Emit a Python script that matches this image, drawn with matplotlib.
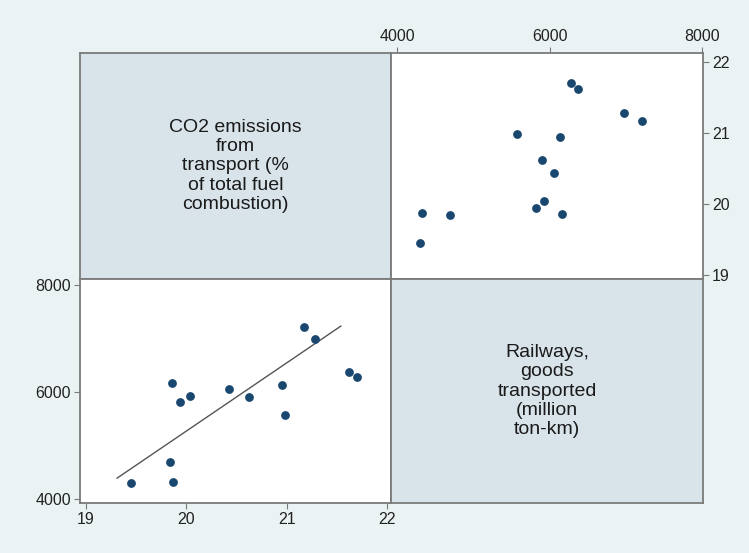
import matplotlib
matplotlib.use("Agg")
import matplotlib.pyplot as plt

# CO2 emissions from transport (% of total fuel combustion)
co2 = [19.45, 19.84, 19.87, 19.86, 19.94, 20.04, 20.43, 20.62, 20.95, 20.98, 21.17, 21.28, 21.62, 21.70]
# Railways, goods transported (million ton-km)
rail = [4300, 4690, 4320, 6160, 5820, 5920, 6060, 5905, 6130, 5570, 7210, 6980, 6370, 6280]

# fitted line ends
fit_x = [19.31, 21.54]
fit_y = [4390, 7230]

co2_ticks = [19, 20, 21, 22]
rail_ticks = [4000, 6000, 8000]
co2_label = "CO2 emissions\nfrom\ntransport (%\nof total fuel\ncombustion)"
rail_label = "Railways,\ngoods\ntransported\n(million\nton-km)"

bg = "#EAF2F3"
diag = "#D9E4EA"
edge = "#7a7a7a"
navy = "#1A476F"
W, H = 749, 553

plt.rcParams["font.family"] = ["Liberation Sans", "DejaVu Sans"]
fig = plt.figure(figsize=(W / 100, H / 100), dpi=100, facecolor=bg)


def panel(x0, y0, x1, y1):
    ax = fig.add_axes([x0 / W, 1 - y1 / H, (x1 - x0) / W, (y1 - y0) / H])
    for s in ax.spines.values():
        s.set_color(edge)
        s.set_linewidth(1.3)
    ax.tick_params(length=4, width=0.8, color=edge, labelsize=11.5,
                   labelcolor="#222222", pad=2.5)
    return ax


ax_tl = panel(80, 53, 391, 279)
ax_tr = panel(391, 53, 703, 279)
ax_bl = panel(80, 279, 391, 503)
ax_br = panel(391, 279, 703, 503)

for ax, txt in [(ax_tl, co2_label), (ax_br, rail_label)]:
    ax.set_facecolor(diag)
    ax.set_xticks([])
    ax.set_yticks([])
    ax.text(0.5, 0.5, txt, transform=ax.transAxes, ha="center", va="center",
            fontsize=14, linespacing=1.17, color="#1a1a1a")

# top right: y = co2, x = rail
ax_tr.scatter(rail, co2, s=28, color=navy, zorder=3)
ax_tr.set_xlim(3920, 8010)
ax_tr.set_ylim(18.94, 22.13)
ax_tr.set_xticks(rail_ticks)
ax_tr.set_yticks(co2_ticks)
ax_tr.xaxis.tick_top()
ax_tr.yaxis.tick_right()

# bottom left: y = rail, x = co2, with linear fit
ax_bl.scatter(co2, rail, s=28, color=navy, zorder=3)
ax_bl.plot(fit_x, fit_y, color="#555555", lw=1.0)
ax_bl.set_xlim(18.94, 22.04)
ax_bl.set_ylim(3925, 8110)
ax_bl.set_xticks(co2_ticks)
ax_bl.set_yticks(rail_ticks)

fig.savefig("out.png", dpi=100, facecolor=bg)
